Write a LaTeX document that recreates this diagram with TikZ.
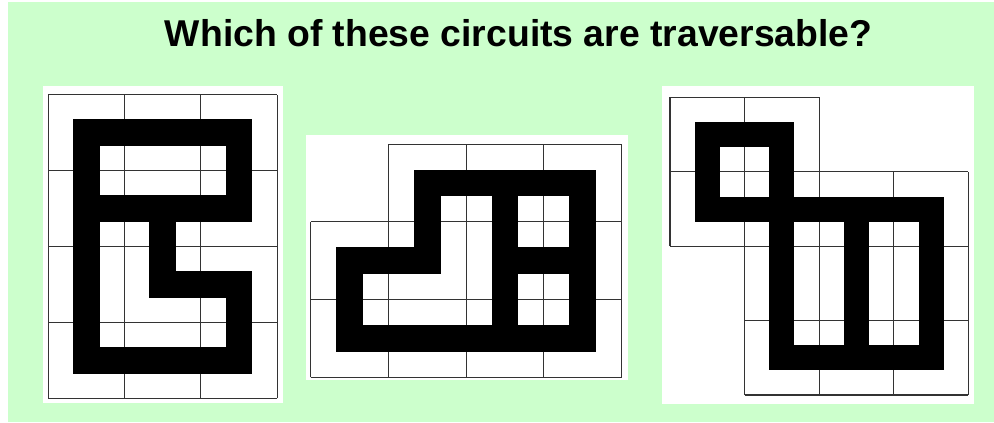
\documentclass[tikz,border=0pt]{standalone}
\usepackage{fontspec}
\setmainfont{Liberation Sans}
\usetikzlibrary{positioning}
\definecolor{mint}{HTML}{CCFFCC}

\begin{document}
\begin{tikzpicture}[
  x=0.75pt, y=-0.75pt,
  panel/.style={fill=white, draw=none, inner sep=0pt, minimum width=#1},
  gridline/.style={draw=black!80, line width=0.8pt},
  track/.style={draw=black, line width=#1, line cap=rect, line join=miter}
]

% page and backdrop
\useasboundingbox (0,0) rectangle (994,422);
\fill[white] (0,0) rectangle (994,422);
\fill[mint] (8,2) rectangle (994,422);

\node[font=\bfseries\fontsize{28}{32}\selectfont, anchor=base] (title) at (518.7,46.7)
  {Which of these circuits are traversable?};

% white cards
\node[panel=180pt, minimum height=237.75pt] (P1) at (163,244.5) {};
\node[panel=241.3pt, minimum height=183.75pt] (P2) at (466.9,257.5) {};
\node[panel=233.8pt, minimum height=238.5pt] (P3) at (818.2,244.5) {};

% Circuit 1
\begin{scope}[shift={(48.3,398.3)}, x=57.2pt, y=56.9pt]
  \draw[gridline] (0,0) grid[step=1] (3,4);
  \draw[track=20pt] (2.5,1.5) -- (1.5,1.5) -- (1.5,2.5);
  \draw[track=20pt] (0.5,2.5) -- (2.5,2.5);
  \draw[track=20pt] (2.5,1.5) -- (2.5,0.5) -- (0.5,0.5) -- (0.5,3.5) -- (2.5,3.5) -- (2.5,2.5);
\end{scope}

% Circuit 2
\begin{scope}[shift={(310.7,377.3)}, x=58.3pt, y=58.3pt]
  \draw[gridline] (0,0) grid[step=1] (4,2);
  \draw[gridline] (1,2) grid[step=1] (4,3);
  \draw[track=20pt] (0.5,0.5) -- (3.5,0.5) -- (3.5,2.5) -- (1.5,2.5) -- (1.5,1.5) -- (0.5,1.5) -- cycle;
  \draw[track=20pt] (2.5,2.5) -- (2.5,0.5);
  \draw[track=20pt] (2.5,1.5) -- (3.5,1.5);
\end{scope}

% Circuit 3
\begin{scope}[shift={(670,395)}, x=55.95pt, y=55.8pt]
  \draw[gridline] (1,0) grid[step=1] (4,2);
  \draw[gridline] (0,2) grid[step=1] (4,3);
  \draw[gridline] (0,3) grid[step=1] (2,4);
  \draw[track=18.75pt] (0.5,2.5) rectangle (1.5,3.5);
  \draw[track=18.75pt] (1.5,2.5) -- (3.5,2.5) -- (3.5,0.5) -- (1.5,0.5) -- cycle;
  \draw[track=18.75pt] (2.5,2.5) -- (2.5,0.5);
\end{scope}

\end{tikzpicture}
\end{document}
